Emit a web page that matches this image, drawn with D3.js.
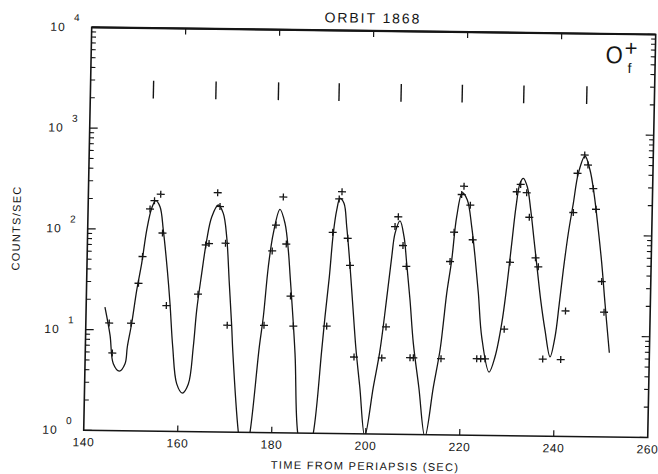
<!DOCTYPE html>
<html><head><meta charset="utf-8">
<script src="https://cdn.jsdelivr.net/npm/d3@7"></script>
<style>
body{margin:0;background:#fff}
text{font-family:"Liberation Sans",Arial,sans-serif;fill:#151515}
</style>
</head><body>
<svg id="chart" width="658" height="474"></svg>
<script>
// ---------- data ----------
const chartTitle = "ORBIT 1868";
const xTitle = "TIME FROM PERIAPSIS (SEC)";
const yTitle = "COUNTS/SEC";
const xTickValues = [140, 160, 180, 200, 220, 240, 260];
const yExponents = [0, 1, 2, 3, 4];

// measured count rates (+ markers)
const obsTime = [144.97,145.76,149.61,151.04,151.78,153.17,154.09,155.39,155.93,157.05,
  163.74,165.17,165.87,167.50,168.05,169.38,170.08,
  177.91,179.34,180.04,181.48,182.31,183.43,184.15,
  191.25,192.13,193.37,193.94,195.35,195.95,197.19,
  203.09,203.87,205.36,206.02,207.14,207.93,209.11,209.81,
  215.70,217.21,217.94,219.41,219.87,221.29,221.94,223.30,224.15,225.07,
  229.02,229.97,231.10,231.92,233.23,233.89,235.38,236.01,237.34,
  241.17,241.98,243.23,243.96,245.41,246.15,247.38,248.04,249.56,250.18];
const obsCount = [11.7,5.9,11.7,29.2,53.9,160,194,225,92.7,17.7,
  23.2,71.5,74,237,173,74.8,11.5,
  11.6,63.7,115,219,74.8,22.8,11.5,
  11.6,99,213,251,86.8,46.8,5.77,
  5.7,11.6,115,144,74.8,46.5,5.77,5.77,
  5.69,52.6,103,244,295,192,87,5.75,5.75,5.75,
  11.4,52.7,264,313,259,148,58.7,47.8,5.82,
  5.78,17.6,167,410,624,497,290,181,34.8,17.3];

// fitted curve
const fitTime = [144.0,145.2,146.02,147.33,148.51,148.93,149.76,150.69,151.63,152.56,153.53,154.35,155.29,156.09,157.11,157.82,158.58,159.59,160.82,162.06,
  162.96,163.53,164.44,165.36,166.33,167.68,168.78,169.60,170.35,171.05,171.36,172.90,174.10,175.38,
  177.00,177.73,178.58,179.50,180.82,181.95,182.76,183.22,184.63,185.53,187.20,188.85,
  190.29,190.85,191.60,192.26,192.89,193.54,194.41,195.09,195.77,196.42,197.05,197.59,198.55,199.80,
  201.42,202.69,204.00,204.79,205.39,206.40,207.32,208.00,208.86,209.75,211.10,212.60,
  214.19,215.46,216.04,216.64,217.56,218.44,219.53,220.63,221.68,222.51,223.37,224.27,225.97,
  227.18,228.47,229.38,230.26,231.01,231.77,232.45,233.33,234.16,234.99,235.82,236.66,237.70,238.88,
  239.86,240.63,241.34,242.25,243.19,244.13,245.48,246.60,247.55,248.62,249.49,250.35,251.48];
const fitCount = [16.8,8.87,4.61,3.9,4.62,6.83,11.7,25,46.1,98.9,163,194,169,99.3,39.9,18.6,6.92,2.97,2.41,2.97,
  6.97,16.1,37.3,80.1,136,179,148,86.8,30,11.1,6.53,1.0,0.45,1.0,
  7.09,14.1,44.3,95.1,165,120,65.2,37.9,6.1,1.0,0.45,1.0,
  6.7,14.4,35.8,96.9,165,216,193,113,57,26.6,12.5,6.78,2.9,0.95,
  2.92,6.82,25,57.6,98.6,131,91.5,49.8,21.6,8.02,2.95,0.95,
  2.97,6.95,12.8,25.4,54.4,147,254,216,117,59.1,25.7,9.46,4.26,
  6.05,13,30.1,81.2,187,321,360,297,175,88.2,44.4,22.4,11.3,6.15,
  9.72,20.9,44.7,104,206,410,610,444,261,113,52.7,21.2,6.85];

// vertical spin-phase marks near the top
const spinMarkTime = [153.4,166.7,180.0,192.9,206.1,219.1,232.2,245.6];
const spinMarkRange = [2000, 3000];

// ---------- layout ----------
const W = 564, H = 403;
const svg = d3.select("#chart");
const g = svg.append("g")
  .attr("transform", "matrix(1,0.01277,-0.01985,1,91.7,27.3)");

const x = d3.scaleLinear().domain([140, 260]).range([0, W]);
const y = d3.scaleLog().domain([1, 1e4]).range([H, 0]);
const ink = "#151515";

g.append("clipPath").attr("id", "clip")
  .append("rect").attr("x", 0).attr("y", 0).attr("width", W).attr("height", H);

// frame
g.append("rect").attr("x", 0).attr("y", 0).attr("width", W).attr("height", H)
  .attr("fill", "none").attr("stroke", ink).attr("stroke-width", 1.6);
g.append("line").attr("x1", 0).attr("x2", W).attr("y1", 0).attr("y2", 0)
  .attr("stroke", ink).attr("stroke-width", 2.2);

// y ticks (log, inward on both sides)
const yMinor = [];
for (let e = 0; e < 4; e++) for (let m = 2; m <= 9; m++) yMinor.push(m * Math.pow(10, e));
const yMajor = yExponents.map(e => Math.pow(10, e));
[[0, 1], [W, -1]].forEach(([x0, dir]) => {
  g.selectAll(null).data(yMinor).enter().append("line")
    .attr("x1", x0).attr("x2", x0 + dir * 4.5)
    .attr("y1", d => y(d)).attr("y2", d => y(d))
    .attr("stroke", ink).attr("stroke-width", 1.1);
  g.selectAll(null).data(yMajor).enter().append("line")
    .attr("x1", x0).attr("x2", x0 + dir * 8)
    .attr("y1", d => y(d)).attr("y2", d => y(d))
    .attr("stroke", ink).attr("stroke-width", 1.2);
});

// x ticks (inward top and bottom)
[[0, 1], [H, -1]].forEach(([y0, dir]) => {
  g.selectAll(null).data(xTickValues.slice(1, -1)).enter().append("line")
    .attr("x1", d => x(d)).attr("x2", d => x(d))
    .attr("y1", y0).attr("y2", y0 + dir * 6)
    .attr("stroke", ink).attr("stroke-width", 1.2);
});

// x tick labels
g.selectAll(null).data(xTickValues).enter().append("text")
  .attr("x", d => x(d)).attr("y", H + 16)
  .attr("text-anchor", "middle").attr("font-size", 12)
  .attr("letter-spacing", 0.5)
  .text(d => d);

// y tick labels: 10 with raised exponent
const yl = g.selectAll(null).data(yExponents).enter().append("g");
yl.append("text").attr("x", -26).attr("y", d => y(Math.pow(10, d)) + 4)
  .attr("text-anchor", "end").attr("font-size", 12).attr("letter-spacing", 1)
  .text("10");
yl.append("text").attr("x", -15).attr("y", d => y(Math.pow(10, d)) - 6)
  .attr("text-anchor", "middle").attr("font-size", 10)
  .text(d => d);

// titles
g.append("text").attr("x", 281).attr("y", -8).attr("text-anchor", "middle")
  .attr("font-size", 14).attr("letter-spacing", 1.9).text(chartTitle);
g.append("text").attr("x", 282).attr("y", 439).attr("text-anchor", "middle")
  .attr("font-size", 11).attr("letter-spacing", 1.3).text(xTitle);
g.append("text").attr("transform", "translate(-67.5,201.6) rotate(-90)")
  .attr("text-anchor", "middle").attr("font-size", 11).attr("letter-spacing", 1.3)
  .text(yTitle);

// species label O_f^+
g.append("text").attr("transform", "translate(514.4,29.4) scale(1,1.12)")
  .attr("font-size", 22).text("O");
g.append("text").attr("x", 539.6).attr("y", 21.5).attr("text-anchor", "middle")
  .attr("font-size", 22).text("+");
g.append("text").attr("x", 538.6).attr("y", 38.8).attr("text-anchor", "middle")
  .attr("font-size", 14).text("f");

// spin marks
g.selectAll(null).data(spinMarkTime).enter().append("line")
  .attr("x1", d => x(d)).attr("x2", d => x(d))
  .attr("y1", y(spinMarkRange[0])).attr("y2", y(spinMarkRange[1]))
  .attr("stroke", ink).attr("stroke-width", 1.4);

// fitted curve
const fit = fitTime.map((t, i) => [t, fitCount[i]]);
g.append("path").datum(fit)
  .attr("clip-path", "url(#clip)")
  .attr("fill", "none").attr("stroke", ink).attr("stroke-width", 1.3)
  .attr("d", d3.line().x(d => x(d[0])).y(d => y(d[1])).curve(d3.curveCatmullRom.alpha(0.5)));

// observation markers
const obs = obsTime.map((t, i) => [t, obsCount[i]]);
g.selectAll(null).data(obs).enter().append("path")
  .attr("transform", d => `translate(${x(d[0])},${y(d[1])})`)
  .attr("d", "M-4,0H4M0,-3.5V3.5")
  .attr("stroke", ink).attr("stroke-width", 1.3).attr("fill", "none");
</script>
</body></html>
